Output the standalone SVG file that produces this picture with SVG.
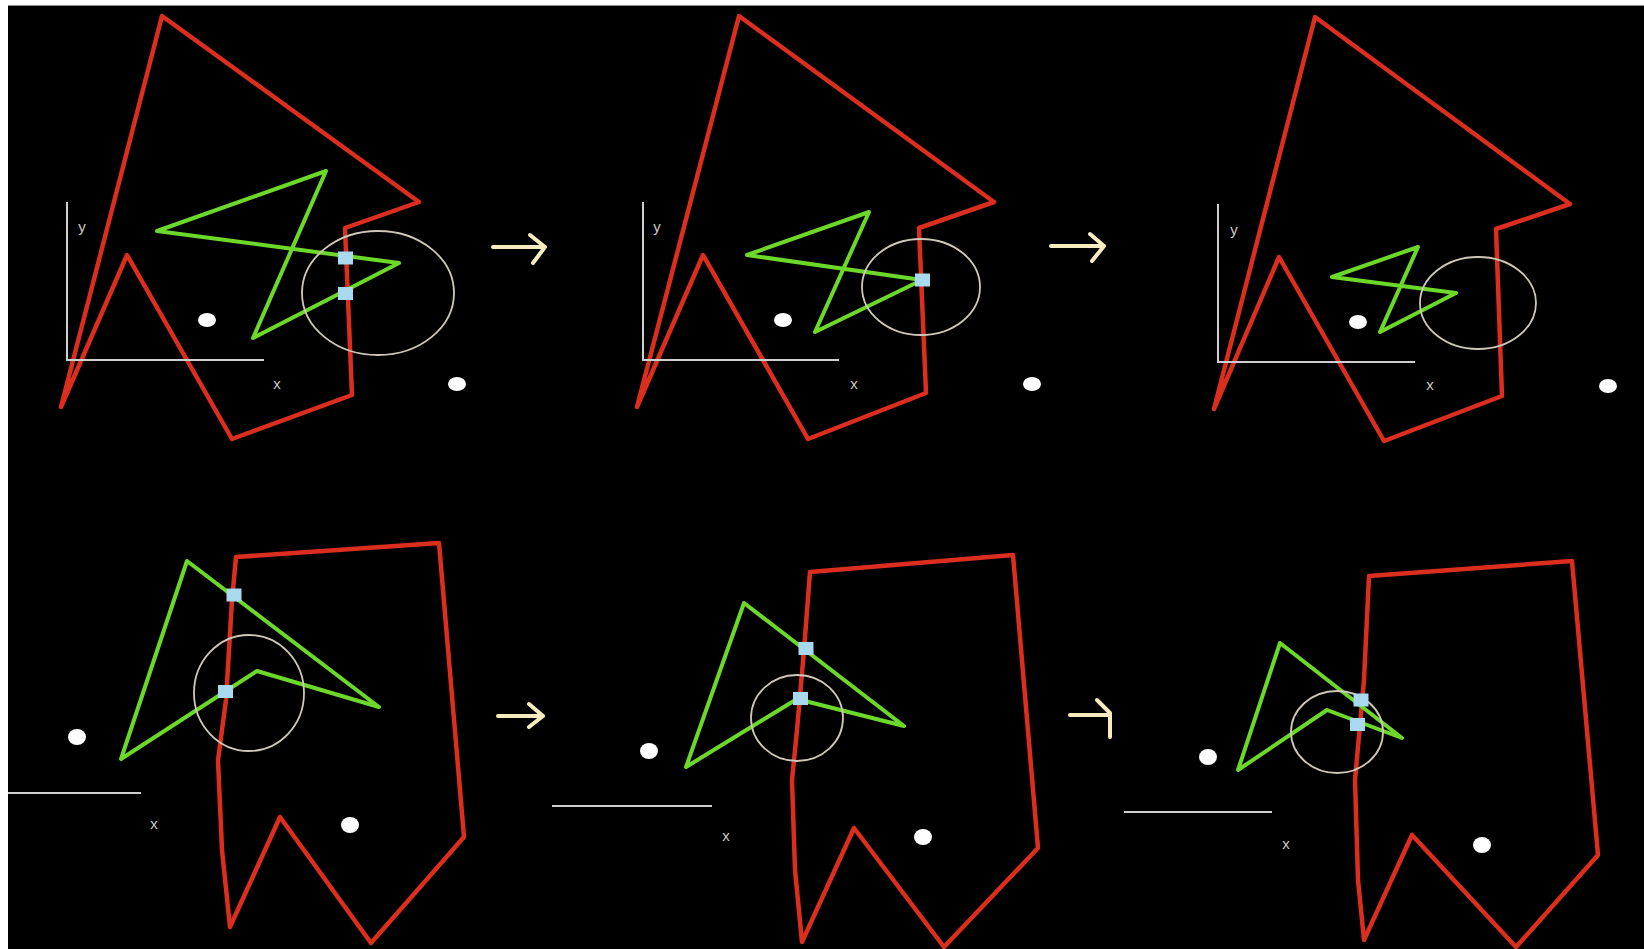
<svg xmlns="http://www.w3.org/2000/svg" width="1644" height="949" viewBox="0 0 1644 949">
<style>
.bg{fill:#000}
.red{fill:none;stroke:#dc2e1e;stroke-width:4.5;stroke-linejoin:round;stroke-linecap:round}
.grn{fill:none;stroke:#6cd82a;stroke-width:4;stroke-linejoin:round;stroke-linecap:round}
.ring{fill:none;stroke:#cfc8b8;stroke-width:1.8}
.axis{fill:none;stroke:#cfcfcf;stroke-width:2}
.dot{fill:#ffffff}
.hit{fill:#a9d9ee}
.lbl{font-family:"Liberation Sans",Arial,sans-serif;font-size:15px;fill:#c8c8c8;text-anchor:middle}
.arr{fill:none;stroke:#f6ecc0;stroke-width:4;stroke-linecap:round;stroke-linejoin:round}
</style>
<rect x="0" y="0" width="1644" height="949" fill="#ffffff"/>
<rect class="bg" x="8" y="6" width="1636" height="943"/>
<line x1="8" y1="5.5" x2="1644" y2="5.5" stroke="#888" stroke-width="1"/>

<g id="panel1">
<polygon class="red" points="162,16 419,202 345,228 352,395 232,439 127,255 61,407"/>
<polygon class="grn" points="157,231 326,171 253,338 399,263"/>
<ellipse class="ring" cx="378" cy="293" rx="76" ry="62"/>
<polyline class="axis" points="67,202 67,360 264,360"/>
<text class="lbl" x="82" y="232">y</text>
<text class="lbl" x="277" y="389">x</text>
<ellipse class="dot" cx="207" cy="320" rx="9" ry="7"/>
<ellipse class="dot" cx="457" cy="384" rx="9" ry="7"/>
<rect class="hit" x="338" y="251.5" width="15" height="13"/>
<rect class="hit" x="338" y="287" width="15" height="13"/>
</g>

<g id="panel2">
<polygon class="red" points="739,16 994,202 919,228 926,393 808,439 703,255 637,407"/>
<polygon class="grn" points="747,255 869,212 815,332 922,280"/>
<ellipse class="ring" cx="921" cy="287" rx="59" ry="48"/>
<polyline class="axis" points="643,202 643,360 839,360"/>
<text class="lbl" x="657" y="232">y</text>
<text class="lbl" x="854" y="389">x</text>
<ellipse class="dot" cx="783" cy="320" rx="9" ry="7"/>
<ellipse class="dot" cx="1032" cy="384" rx="9" ry="7"/>
<rect class="hit" x="915" y="273.5" width="15" height="13"/>
</g>

<g id="panel3">
<polygon class="red" points="1315,17 1570,204 1496,229 1502,396 1384,441 1279,257 1214,409"/>
<polygon class="grn" points="1332,277 1418,247 1380,332 1456,293"/>
<ellipse class="ring" cx="1478" cy="303" rx="58" ry="46"/>
<polyline class="axis" points="1218,204 1218,362 1415,362"/>
<text class="lbl" x="1234" y="235">y</text>
<text class="lbl" x="1430" y="390">x</text>
<ellipse class="dot" cx="1358" cy="322" rx="9" ry="7"/>
<ellipse class="dot" cx="1608" cy="386" rx="9" ry="7"/>
</g>

<g id="panel4">
<polygon class="red" points="236,557 439,543 464,837 371,943 280,817 230,927 222,850 218,760 226,700 232,600"/>
<polygon class="grn" points="187,561 379,707 257,671 121,759"/>
<ellipse class="ring" cx="249" cy="693" rx="55" ry="58"/>
<line class="axis" x1="8" y1="793" x2="141" y2="793"/>
<text class="lbl" x="154" y="829">x</text>
<ellipse class="dot" cx="77" cy="737" rx="9" ry="8"/>
<ellipse class="dot" cx="350" cy="825" rx="9" ry="8"/>
<rect class="hit" x="226.5" y="588.5" width="15" height="13"/>
<rect class="hit" x="218" y="685" width="15" height="13"/>
</g>

<g id="panel5">
<polygon class="red" points="810,572 1013,555 1038,848 944,947 854,828 802,942 795,870 792,780 797,730 804,650"/>
<polygon class="grn" points="744,603 904,726 797,699 686,767"/>
<ellipse class="ring" cx="797" cy="718" rx="46" ry="43"/>
<line class="axis" x1="552" y1="806" x2="712" y2="806"/>
<text class="lbl" x="726" y="841">x</text>
<ellipse class="dot" cx="649" cy="751" rx="9" ry="8"/>
<ellipse class="dot" cx="923" cy="837" rx="9" ry="8"/>
<rect class="hit" x="798.5" y="642" width="15" height="13"/>
<rect class="hit" x="793" y="692" width="15" height="13"/>
</g>

<g id="panel6">
<polygon class="red" points="1369,576 1572,561 1598,855 1516,947 1412,835 1364,940 1358,880 1355,780 1364,680"/>
<polygon class="grn" points="1280,643 1402,738 1327,710 1238,770"/>
<ellipse class="ring" cx="1337" cy="732" rx="46" ry="41"/>
<line class="axis" x1="1124" y1="812" x2="1272" y2="812"/>
<text class="lbl" x="1286" y="849">x</text>
<ellipse class="dot" cx="1208" cy="757" rx="9" ry="8"/>
<ellipse class="dot" cx="1482" cy="845" rx="9" ry="8"/>
<rect class="hit" x="1353.5" y="693.5" width="15" height="13"/>
<rect class="hit" x="1350" y="718" width="15" height="13"/>
</g>

<g id="connectors">
<path class="arr" d="M493,247 H545 M530,235 L545,247 L533,263"/>
<path class="arr" d="M1051,246 H1104 M1090,234 L1104,246 L1092,261"/>
<path class="arr" d="M498,716 H543 M529,704 L543,716 L529,727"/>
<path class="arr" d="M1070,715 H1110 M1097,700 L1110,713 L1110,737"/>
</g>
</svg>
